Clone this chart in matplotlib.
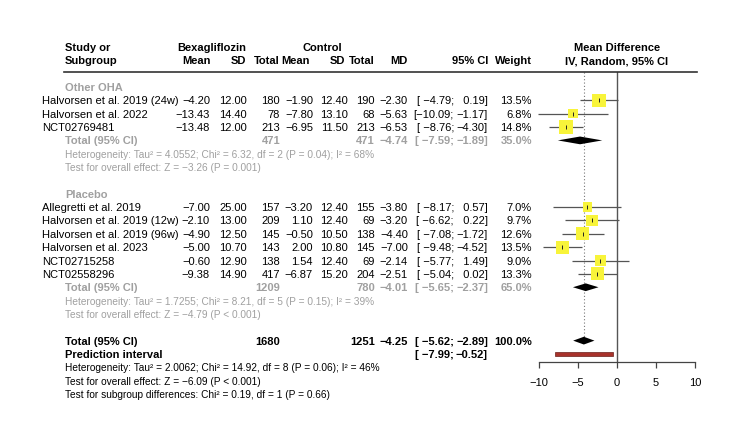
import matplotlib
matplotlib.use("Agg")
import matplotlib.pyplot as plt
from matplotlib.transforms import blended_transform_factory
from matplotlib.lines import Line2D

plt.rcParams['font.family'] = ['Liberation Sans', 'DejaVu Sans']

# ---------------- data ----------------
oha_studies = ["Halvorsen et al. 2019 (24w)", "Halvorsen et al. 2022", "NCT02769481"]
oha_bexa_mean = [-4.20, -13.43, -13.48]
oha_bexa_sd = [12.00, 14.40, 12.00]
oha_bexa_n = [180, 78, 213]
oha_ctrl_mean = [-1.90, -7.80, -6.95]
oha_ctrl_sd = [12.40, 13.10, 11.50]
oha_ctrl_n = [190, 68, 213]
oha_md = [-2.30, -5.63, -6.53]
oha_lo = [-4.79, -10.09, -8.76]
oha_hi = [0.19, -1.17, -4.30]
oha_w = [13.5, 6.8, 14.8]
oha_total = dict(n1=471, n2=471, md=-4.74, lo=-7.59, hi=-1.89, w=35.0)
oha_het = "Heterogeneity: Tau² = 4.0552; Chi² = 6.32, df = 2 (P = 0.04); I² = 68%"
oha_test = "Test for overall effect: Z = −3.26 (P = 0.001)"

pl_studies = ["Allegretti et al. 2019", "Halvorsen et al. 2019 (12w)", "Halvorsen et al. 2019 (96w)",
              "Halvorsen et al. 2023", "NCT02715258", "NCT02558296"]
pl_bexa_mean = [-7.00, -2.10, -4.90, -5.00, -0.60, -9.38]
pl_bexa_sd = [25.00, 13.00, 12.50, 10.70, 12.90, 14.90]
pl_bexa_n = [157, 209, 145, 143, 138, 417]
pl_ctrl_mean = [-3.20, 1.10, -0.50, 2.00, 1.54, -6.87]
pl_ctrl_sd = [12.40, 12.40, 10.50, 10.80, 12.40, 15.20]
pl_ctrl_n = [155, 69, 138, 145, 69, 204]
pl_md = [-3.80, -3.20, -4.40, -7.00, -2.14, -2.51]
pl_lo = [-8.17, -6.62, -7.08, -9.48, -5.77, -5.04]
pl_hi = [0.57, 0.22, -1.72, -4.52, 1.49, 0.02]
pl_w = [7.0, 9.7, 12.6, 13.5, 9.0, 13.3]
pl_total = dict(n1=1209, n2=780, md=-4.01, lo=-5.65, hi=-2.37, w=65.0)
pl_het = "Heterogeneity: Tau² = 1.7255; Chi² = 8.21, df = 5 (P = 0.15); I² = 39%"
pl_test = "Test for overall effect: Z = −4.79 (P < 0.001)"

overall = dict(n1=1680, n2=1251, md=-4.25, lo=-5.62, hi=-2.89, w=100.0)
pred_lo, pred_hi = -7.99, -0.52
overall_het = "Heterogeneity: Tau² = 2.0062; Chi² = 14.92, df = 8 (P = 0.06); I² = 46%"
overall_test = "Test for overall effect: Z = −6.09 (P < 0.001)"
subgroup_test = "Test for subgroup differences: Chi² = 0.19, df = 1 (P = 0.66)"

xticks = [-10, -5, 0, 5, 10]

# ---------------- layout ----------------
W, H = 750, 441
fig = plt.figure(figsize=(7.5, 4.41), dpi=100)
ax = fig.add_axes([539 / W, 1 - 362 / H, 156 / W, 290 / H])
ax.set_xlim(-10, 10)
ax.set_ylim(20.6, -1.124)
for s in ['left', 'right', 'top']:
    ax.spines[s].set_visible(False)
ax.spines['bottom'].set_color('#444444')
ax.spines['bottom'].set_linewidth(0.9)
ax.set_yticks([])
ax.set_xticks(xticks)
ax.set_xticklabels([str(t).replace('-', '−') for t in xticks])
ax.tick_params(axis='x', direction='out', length=4.5, width=0.9, color='#444444',
               labelsize=8, pad=7)

tr = blended_transform_factory(fig.transFigure, ax.transData)
FS = 8
FS_S = 7.3
GRAY = '#a0a0a0'


def px(x):
    return x / W


def fmt(v, d=2):
    return f"{v:.{d}f}".replace('-', '−')


def txt(x, y, s, ha='right', bold=False, color='black', size=FS):
    ax.text(px(x), y, s, transform=tr, ha=ha, va='center_baseline', fontsize=size,
            fontweight='bold' if bold else 'normal', color=color, clip_on=False)


# column right edges (pixels)
C_M1, C_SD1, C_N1, C_M2, C_SD2, C_N2, C_MD, C_SEMI, C_CI, C_W = 210, 247, 280, 313, 348, 375, 408, 454, 488, 532
X_NAME, X_SUB = 42, 65

# header
txt(X_SUB, -3, "Study or", ha='left', bold=True)
txt(X_SUB, -2, "Subgroup", ha='left', bold=True)
txt(212, -3, "Bexagliflozin", ha='center', bold=True)
txt(322, -3, "Control", ha='center', bold=True)
for x, s in [(C_M1 + 1, "Mean"), (C_SD1 - 1, "SD"), (C_N1, "Total"), (C_M2 - 3, "Mean"), (C_SD2 - 3, "SD"),
             (C_N2, "Total"), (C_MD, "MD"), (C_CI, "95% CI"), (C_W, "Weight")]:
    txt(x, -2, s, bold=True)
txt(617, -3, "Mean Difference", ha='center', bold=True)
txt(617, -2, "IV, Random, 95% CI", ha='center', bold=True)
fig.add_artist(Line2D([64 / W, 697 / W], [1 - 72 / H] * 2, transform=fig.transFigure,
                      color='#333333', lw=1.2))


def ci_text(y, lo, hi, bold=False, color='black'):
    a = fmt(lo)
    b = fmt(hi)
    left = "[" + (" " if len(a) < 6 else "") + a + ";"
    right = ("  " if not b.startswith('−') else "") + b + "]"
    txt(C_SEMI, y, left, bold=bold, color=color)
    txt(C_CI, y, right, bold=bold, color=color)


def study_rows(y0, names, m1, sd1, n1, m2, sd2, n2, md, lo, hi, w):
    ys = []
    for i in range(len(names)):
        y = y0 + i
        ys.append(y)
        txt(X_NAME, y, names[i], ha='left')
        txt(C_M1, y, fmt(m1[i]))
        txt(C_SD1, y, fmt(sd1[i]))
        txt(C_N1, y, str(n1[i]))
        txt(C_M2, y, fmt(m2[i]))
        txt(C_SD2, y, fmt(sd2[i]))
        txt(C_N2, y, str(n2[i]))
        txt(C_MD, y, fmt(md[i]))
        ci_text(y, lo[i], hi[i])
        txt(C_W, y, f"{w[i]:.1f}%")
    ax.hlines(ys, lo, hi, color='#555555', lw=0.9, clip_on=False, zorder=2)
    ax.scatter(md, ys, marker='s', s=[6.8 * v for v in w], color='#f8f43a', edgecolor='none',
               zorder=3, clip_on=False)
    ax.scatter(md, ys, marker='|', s=5, color='#222222', linewidths=0.7, zorder=4, clip_on=False)


def total_row(y, d, bold=True, color='black'):
    txt(X_SUB, y, "Total (95% CI)", ha='left', bold=bold, color=color)
    txt(C_N1, y, str(d['n1']), bold=bold, color=color)
    txt(C_N2, y, str(d['n2']), bold=bold, color=color)
    txt(C_MD, y, fmt(d['md']), bold=bold, color=color)
    ci_text(y, d['lo'], d['hi'], bold=bold, color=color)
    txt(C_W, y, f"{d['w']:.1f}%", bold=bold, color=color)
    h = 0.29
    ax.fill([d['lo'], d['md'], d['hi'], d['md']], [y, y - h, y, y + h], color='black',
            zorder=3, clip_on=False, lw=0)


# subgroup 1
txt(X_SUB, 0, "Other OHA", ha='left', bold=True, color=GRAY)
study_rows(1, oha_studies, oha_bexa_mean, oha_bexa_sd, oha_bexa_n, oha_ctrl_mean, oha_ctrl_sd,
           oha_ctrl_n, oha_md, oha_lo, oha_hi, oha_w)
total_row(4, oha_total, color=GRAY)
txt(X_SUB, 5, oha_het, ha='left', color=GRAY, size=FS_S)
txt(X_SUB, 6, oha_test, ha='left', color=GRAY, size=FS_S)

# subgroup 2
txt(X_SUB, 8, "Placebo", ha='left', bold=True, color=GRAY)
study_rows(9, pl_studies, pl_bexa_mean, pl_bexa_sd, pl_bexa_n, pl_ctrl_mean, pl_ctrl_sd,
           pl_ctrl_n, pl_md, pl_lo, pl_hi, pl_w)
total_row(15, pl_total, color=GRAY)
txt(X_SUB, 16, pl_het, ha='left', color=GRAY, size=FS_S)
txt(X_SUB, 17, pl_test, ha='left', color=GRAY, size=FS_S)

# overall
total_row(19, overall)
txt(X_SUB, 20, "Prediction interval", ha='left', bold=True)
ci_text(20, pred_lo, pred_hi, bold=True)
ax.barh(20, pred_hi - pred_lo, left=pred_lo, height=0.24, color='#a8322b',
        edgecolor='#6a1f1a', lw=0.5, zorder=3, clip_on=False)
txt(X_SUB, 21, overall_het, ha='left', size=FS_S)
txt(X_SUB, 22, overall_test, ha='left', size=FS_S)
txt(X_SUB, 23, subgroup_test, ha='left', size=FS_S)

# reference lines
ax.axvline(0, color='#555555', lw=1.0, zorder=1)
ax.vlines(overall['md'], -1.124, 18.7, color='#777777', lw=0.8, linestyles=(0, (1, 2)), zorder=1)

fig.savefig("out.png", dpi=100)
